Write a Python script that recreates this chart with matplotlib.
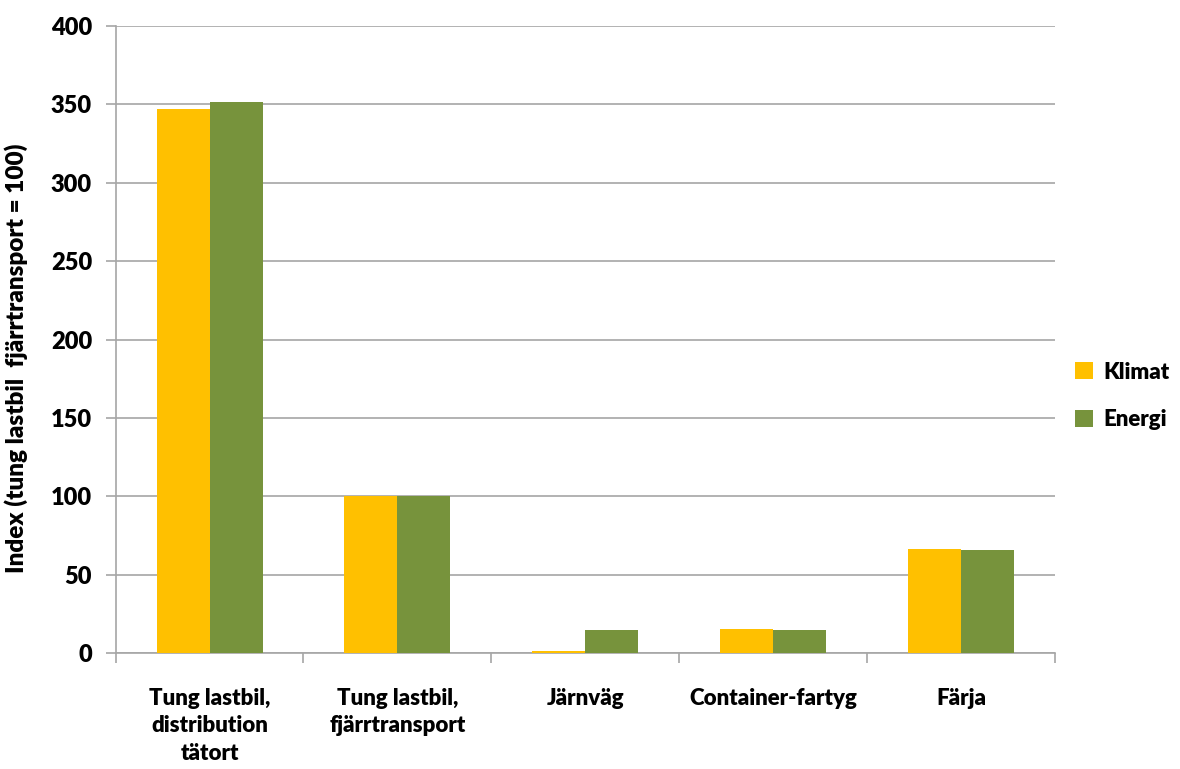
import numpy as np
import matplotlib.pyplot as plt

kategorier = ["Tung lastbil,\ndistribution\ntätort", "Tung lastbil,\nfjärrtransport",
              "Järnväg", "Container-fartyg", "Färja"]
klimat = [347, 100, 1, 15, 66]
energi = [351.5, 100, 14.5, 14.5, 65.5]
yticks = [0, 50, 100, 150, 200, 250, 300, 350, 400]

plt.rcParams['font.family'] = ['Lato', 'DejaVu Sans']
plt.rcParams['font.weight'] = 'bold'

fig = plt.figure(figsize=(11.8, 7.69), dpi=100)
ax = fig.add_axes([0.098, 0.151, 0.796, 0.815])

x = np.arange(len(kategorier))
w = 0.282
ax.bar(x - w / 2, klimat, w, color='#FFC000', label='Klimat', zorder=3)
ax.bar(x + w / 2, energi, w, color='#77933C', label='Energi', zorder=3)

ax.set_xlim(-0.5, len(kategorier) - 0.5)
ax.set_ylim(0, 400)
ax.set_yticks(yticks)
ax.set_yticklabels([str(t) for t in yticks], fontsize=17, fontweight='heavy')
ax.yaxis.grid(True, color='#A6A6A6', linewidth=1.2, zorder=0)
ax.set_axisbelow(True)

# kategorietiketter + tickar mellan grupperna
ax.set_xticks(np.arange(-0.5, len(kategorier), 1.0))
ax.set_xticklabels([])
ax.set_xticks(x, minor=True)
ax.set_xticklabels(kategorier, minor=True, fontsize=16, fontweight='heavy', linespacing=1.4)
ax.tick_params(axis='x', which='minor', length=0, pad=25)
ax.tick_params(axis='x', which='major', length=7, color='#A6A6A6', width=1.2)
ax.tick_params(axis='y', length=7, color='#A6A6A6', width=1.2, pad=10)

for s in ['top', 'right']:
    ax.spines[s].set_visible(False)
for s in ['left', 'bottom']:
    ax.spines[s].set_color('#A6A6A6')
    ax.spines[s].set_linewidth(1.2)

ax.set_ylabel('Index (tung lastbil  fjärrtransport = 100)', fontsize=17.5, fontweight='heavy')
ax.yaxis.set_label_coords(-0.093, 0.47)

ax.legend(loc='center left', bbox_to_anchor=(1.0, 0.41), frameon=False,
          prop={'size': 16, 'weight': 'heavy'}, handlelength=0.8, handleheight=0.8,
          handletextpad=0.5, labelspacing=1.2)

fig.savefig('out.png', dpi=100)
